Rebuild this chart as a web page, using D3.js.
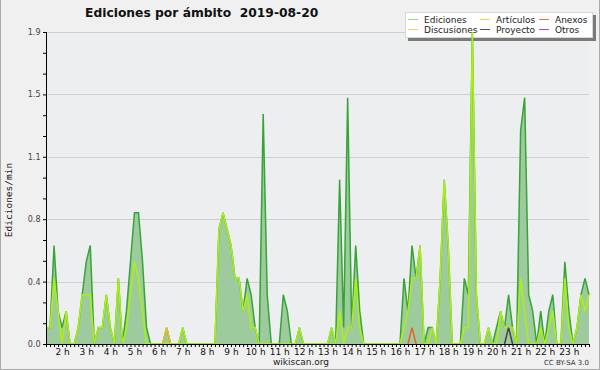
<!DOCTYPE html>
<html lang="es">
<head>
<meta charset="UTF-8">
<title>Ediciones por ámbito</title>
<script src="https://cdn.jsdelivr.net/npm/d3@7"></script>
<style>
  body { margin: 0; background: #f0f0f0; }
  svg { display: block; font-family: "DejaVu Sans", sans-serif; }
  .title { white-space: pre; }
</style>
</head>
<body>
<div id="chart"></div>
<script>
// muestras cada 10 minutos, desde la 1:20 hasta las 23:50
var startMinute = 80, stepMinutes = 10;

var ediciones = [
  0.1, 0.1, 0.6, 0.2, 0.1, 0.2, 0, 0, 0.1, 0.3, 0.5, 0.6, 0, 0.1, 0.1, 0.3, 0.1, 0, 0.4, 0,
  0.2, 0.5, 0.8, 0.8, 0.5, 0.1, 0, 0, 0, 0, 0.1, 0, 0, 0, 0.1, 0, 0, 0, 0, 0,
  0, 0, 0, 0.7, 0.8, 0.7, 0.6, 0.4, 0.4, 0.2, 0.4, 0.3, 0.1, 0, 1.4, 0.3, 0, 0, 0, 0.3,
  0.2, 0, 0, 0.1, 0, 0, 0, 0, 0, 0, 0, 0.1, 0, 1.0, 0.1, 1.5, 0.1, 0.6, 0.2, 0,
  0, 0, 0, 0, 0, 0, 0, 0, 0, 0.4, 0.2, 0.6, 0.4, 0.6, 0, 0.1, 0.1, 0, 0.4, 1.0,
  0.6, 0, 0, 0, 0.4, 0.3, 1.9, 0.3, 0, 0, 0.1, 0, 0.1, 0.2, 0.1, 0.3, 0.1, 0, 1.3, 1.5,
  0.3, 0.2, 0, 0.2, 0, 0.2, 0.3, 0, 0, 0.5, 0.2, 0, 0.1, 0.3, 0.4, 0.3
];
var articulos = [
  0.1, 0.1, 0.4, 0.2, 0, 0.2, 0, 0, 0.1, 0.3, 0.3, 0.3, 0, 0.1, 0.1, 0.3, 0.1, 0, 0.4, 0,
  0.1, 0.3, 0.5, 0.4, 0.2, 0, 0, 0, 0, 0, 0, 0, 0, 0, 0.1, 0, 0, 0, 0, 0,
  0, 0, 0, 0.7, 0.8, 0.7, 0.6, 0.4, 0.4, 0.2, 0.3, 0.1, 0.1, 0, 0, 0, 0, 0, 0, 0,
  0, 0, 0, 0.1, 0, 0, 0, 0, 0, 0, 0, 0.1, 0, 0.2, 0, 0.1, 0.1, 0.4, 0.1, 0,
  0, 0, 0, 0, 0, 0, 0, 0, 0, 0.1, 0.2, 0.4, 0.4, 0.6, 0, 0, 0.1, 0, 0.4, 1.0,
  0.6, 0, 0, 0, 0.1, 0.1, 1.9, 0.3, 0, 0, 0.1, 0, 0, 0.2, 0.1, 0.1, 0.1, 0, 0.4, 0.2,
  0, 0, 0, 0.1, 0, 0.1, 0.2, 0, 0, 0.4, 0.1, 0, 0.1, 0.3, 0.2, 0.3
];
var discusiones = [[30, 0.1]];   // [muestra, valor]
var anexos = [[91, 0.1]];
var proyecto = [[115, 0.1]];
var otros = [];

var hourTicks = d3.range(2, 24);
var yTop = 1.9;

var width = 600, height = 370;
var margin = {top: 32, right: 11, bottom: 26, left: 46};

function toSeries(arr) {
  return arr.map(function(v, i) { return {t: startMinute + i * stepMinutes, v: v}; });
}
function sparse(pairs) {
  var full = ediciones.map(function() { return 0; });
  pairs.forEach(function(p) { full[p[0]] = p[1]; });
  return toSeries(full);
}

var series = [
  {name: "Ediciones", color: "#35a535", legend: "#8fd68f", data: toSeries(ediciones)},
  {name: "Discusiones", color: "#f0c020", legend: "#f8d048", data: sparse(discusiones)},
  {name: "Artículos", color: "#adf010", legend: "#c4f040", data: toSeries(articulos)},
  {name: "Proyecto", color: "#444444", legend: "#555555", data: sparse(proyecto)},
  {name: "Anexos", color: "#e8602a", legend: "#f07040", data: sparse(anexos)},
  {name: "Otros", color: "#9a40ee", legend: "#a040f0", data: sparse(otros)}
];

var x = d3.scaleLinear()
  .domain([startMinute, startMinute + (ediciones.length - 1) * stepMinutes])
  .range([margin.left, width - margin.right]);
var y = d3.scaleLinear()
  .domain([0, yTop])
  .range([height - margin.bottom, margin.top]);

var svg = d3.select("#chart").append("svg")
  .attr("width", width)
  .attr("height", height);

svg.append("rect").attr("width", width).attr("height", height).attr("fill", "#f0f0f0");
svg.append("path")
  .attr("d", "M0.5,0V369.5H599.5V0")
  .attr("fill", "none").attr("stroke", "#a9a9a9");

svg.append("rect")
  .attr("x", margin.left).attr("y", margin.top)
  .attr("width", width - margin.left - margin.right)
  .attr("height", height - margin.bottom - margin.top)
  .attr("fill", "#edeef0");

// rejilla
var major = d3.range(1, 6).map(function(k) { return yTop * k / 5; });
svg.append("g").selectAll("line")
  .data(major)
  .enter().append("line")
  .attr("x1", margin.left).attr("x2", width - margin.right)
  .attr("y1", function(d) { return Math.round(y(d)) + 0.5; })
  .attr("y2", function(d) { return Math.round(y(d)) + 0.5; })
  .attr("stroke", "#cfcfcf");

// título
svg.append("text")
  .attr("class", "title")
  .attr("x", 85).attr("y", 17)
  .attr("font-size", 12.3).attr("font-weight", "bold")
  .attr("fill", "#111")
  .text("Ediciones por ámbito  2019-08-20");

// leyenda
var lg = svg.append("g").attr("transform", "translate(405,12)");
lg.append("rect").attr("x", 3).attr("y", 3).attr("width", 188).attr("height", 26).attr("fill", "#7a7a7a");
lg.append("rect").attr("x", 0.5).attr("y", 0.5).attr("width", 187).attr("height", 25)
  .attr("fill", "#ffffff").attr("stroke", "#d8d8d8");
var legendOrder = ["Ediciones", "Artículos", "Anexos", "Discusiones", "Proyecto", "Otros"];
var colX = [3, 75, 134];
legendOrder.forEach(function(name, i) {
  var s = series.find(function(d) { return d.name === name; });
  var cx = colX[i % 3], cy = i < 3 ? 7.5 : 17.5;
  lg.append("line").attr("x1", cx).attr("x2", cx + 10).attr("y1", cy).attr("y2", cy)
    .attr("stroke", s.legend).attr("stroke-width", 1);
  lg.append("text").attr("x", cx + 16).attr("y", cy + 3.5)
    .attr("font-size", 9).attr("fill", "#222").text(name);
});

// área y líneas
var area = d3.area()
  .x(function(d) { return x(d.t); })
  .y0(y(0))
  .y1(function(d) { return y(d.v); });
var line = d3.line()
  .x(function(d) { return x(d.t); })
  .y(function(d) { return y(d.v); });

svg.append("path")
  .datum(series[0].data)
  .attr("d", area)
  .attr("fill", "#9ecb9e");

var drawOrder = ["Ediciones", "Artículos", "Discusiones", "Anexos", "Proyecto", "Otros"];
drawOrder.forEach(function(name) {
  var s = series.find(function(d) { return d.name === name; });
  var pts = s.data;
  if (name !== "Ediciones" && name !== "Artículos") {
    // sólo se ve donde hay actividad
    pts = pts.filter(function(d, i) {
      return d.v > 0 || (pts[i - 1] && pts[i - 1].v > 0) || (pts[i + 1] && pts[i + 1].v > 0);
    });
    if (!pts.length) return;
    var groups = [], cur = [];
    pts.forEach(function(d) {
      if (cur.length && d.t - cur[cur.length - 1].t > stepMinutes) { groups.push(cur); cur = []; }
      cur.push(d);
    });
    groups.push(cur);
    groups.forEach(function(g) {
      svg.append("path").datum(g).attr("d", line)
        .attr("fill", "none").attr("stroke", s.color).attr("stroke-width", 1.5);
    });
    return;
  }
  svg.append("path").datum(pts).attr("d", line)
    .attr("fill", "none").attr("stroke", s.color).attr("stroke-width", 1.5);
});

// ejes
var yAxis = d3.axisLeft(y)
  .tickValues(d3.range(0, 16).map(function(k) { return yTop * k / 15; }))
  .tickSize(3)
  .tickFormat(function(d, i) { return i % 3 === 0 ? d3.format(".1f")(d) : ""; });
var gy = svg.append("g")
  .attr("transform", "translate(" + margin.left + ",0)")
  .call(yAxis);
gy.select(".domain").attr("stroke", "#000").attr("d", "M0.5," + margin.top + "V" + (height - margin.bottom));
gy.selectAll(".tick line").attr("stroke", "#000");
gy.selectAll("text").attr("font-size", 8).attr("fill", "#444").attr("dx", "0.5").attr("font-family", "DejaVu Sans");

var xAxis = d3.axisBottom(x)
  .tickValues(d3.range(startMinute, startMinute + ediciones.length * stepMinutes, stepMinutes))
  .tickSize(3)
  .tickFormat("");
var gx = svg.append("g")
  .attr("transform", "translate(0," + (height - margin.bottom) + ")")
  .call(xAxis);
gx.select(".domain").attr("stroke", "#000").attr("d", "M" + margin.left + ",0.5H" + (width - margin.right + 1));
gx.selectAll(".tick line").attr("stroke", "#000");

svg.append("g").selectAll("text")
  .data(hourTicks)
  .enter().append("text")
  .attr("x", function(h) { return x(h * 60) + 0.5; })
  .attr("y", height - margin.bottom + 11)
  .attr("text-anchor", "middle")
  .attr("font-size", 9).attr("fill", "#111")
  .text(function(h) { return h + " h"; });

// rótulo del eje y
svg.append("text")
  .attr("transform", "translate(12," + ((margin.top + height - margin.bottom) / 2 + 12) + ") rotate(-90)")
  .attr("text-anchor", "middle")
  .attr("font-family", "DejaVu Sans Mono")
  .attr("font-size", 9.5).attr("fill", "#111")
  .text("Ediciones/min");

svg.append("text")
  .attr("x", 301).attr("y", 365)
  .attr("text-anchor", "middle")
  .attr("font-size", 9).attr("fill", "#222")
  .text("wikiscan.org");
svg.append("text")
  .attr("x", 589).attr("y", 365)
  .attr("text-anchor", "end")
  .attr("font-size", 7).attr("fill", "#333")
  .text("CC BY-SA 3.0");
</script>
</body>
</html>
